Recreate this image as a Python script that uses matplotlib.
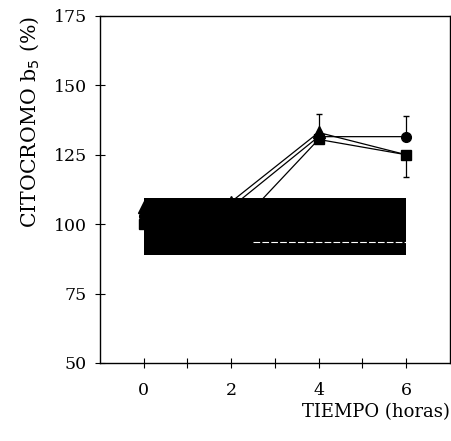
import numpy as np
import matplotlib.pyplot as plt

plt.rcParams['font.family'] = ['DejaVu Serif']

horas = [0, 2, 4, 6]
circulo = [103, 106, 131.5, 131.5]
cuadrado = [100, 97, 130.5, 125]
triangulo = [106, 108, 133, 125]

# error bars (only the visible ones)
err_circulo = [0, 0, 0, 7.5]
err_cuadrado = [0, 0, 0, 8]
err_triangulo = [0, 0, 6.5, 0]

# control band
banda_x = [0, 6]
banda_inf = 89
banda_sup = 109.5

fig = plt.figure(figsize=(4.52, 4.41), dpi=100)
ax = fig.add_axes([0.221, 0.177, 0.774, 0.787])

ax.fill_between(banda_x, banda_inf, banda_sup, color='black', lw=0, zorder=1)
ax.plot([2.5, 6], [93.5, 93.5], color='white', lw=0.8, ls=(0, (6, 2)), zorder=2)

# triangle at 6 h is hidden behind the square
ax.plot(horas, triangulo, color='black', lw=0.9, marker='^', ms=9,
        markevery=[0, 1, 2], zorder=4)
ax.plot(horas, circulo, color='black', lw=0.9, marker='o', ms=7, zorder=3)
ax.plot(horas, cuadrado, color='black', lw=0.9, marker='s', ms=7, zorder=5)

ax.errorbar([6], [circulo[3]], yerr=[[0], [err_circulo[3]]], fmt='none',
            ecolor='black', elinewidth=0.9, capsize=2.5, zorder=3)
ax.errorbar([6], [cuadrado[3]], yerr=[[err_cuadrado[3]], [0]], fmt='none',
            ecolor='black', elinewidth=0.9, capsize=2.5, zorder=3)
ax.errorbar([4], [triangulo[2]], yerr=[[0], [err_triangulo[2]]], fmt='none',
            ecolor='black', elinewidth=0.9, capsize=2.5, zorder=3)

ax.set_xlim(-1, 7)
ax.set_ylim(50, 175)
ax.set_xticks([0, 2, 4, 6])
ax.set_xticks([1, 3, 5], minor=True)
ax.set_yticks([50, 75, 100, 125, 150, 175])
ax.tick_params(direction='inout', length=7, width=0.8, labelsize=12.5, pad=6)
ax.tick_params(axis='x', pad=10)
ax.tick_params(which='minor', direction='inout', length=7, width=0.8)
for s in ax.spines.values():
    s.set_linewidth(1.0)

ax.set_ylabel('CITOCROMO b$_5$ (%)', fontsize=14.8, loc='top', labelpad=8)
ax.set_xlabel('TIEMPO (horas)', fontsize=13, loc='right', labelpad=3)

fig.savefig('out.png', dpi=100)
